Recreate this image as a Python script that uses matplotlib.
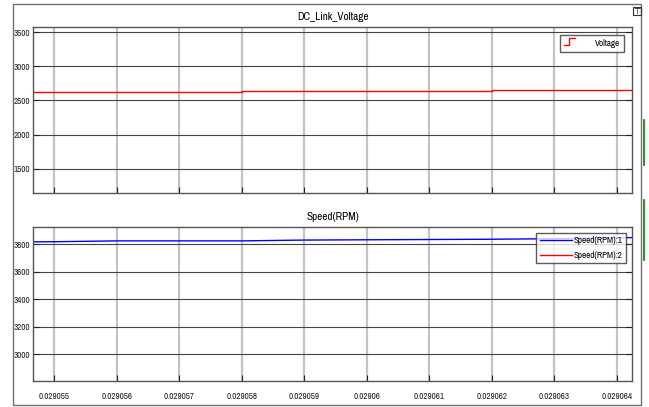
import matplotlib
matplotlib.use('Agg')
from matplotlib import pyplot as plt
from matplotlib.patches import Rectangle
from matplotlib.lines import Line2D
from matplotlib.legend_handler import HandlerBase

# data
t_volt = [0.02905466, 0.029058, 0.029058, 0.029062, 0.029062, 0.02906424]
voltage = [2630, 2630, 2645, 2645, 2652, 2652]

t_speed = [0.02905466, 0.029055, 0.029056, 0.029058, 0.029059, 0.029061, 0.029062, 0.029063, 0.02906424]
speed1 = [3817, 3818, 3824, 3824, 3830, 3834, 3836, 3840, 3848]
speed2 = [4000, 4000, 4000, 4000, 4000, 4000, 4000, 4000, 4000]

xticks = [0.029055, 0.029056, 0.029057, 0.029058, 0.029059, 0.02906,
          0.029061, 0.029062, 0.029063, 0.029064]
xlabels = ['0.029055', '0.029056', '0.029057', '0.029058', '0.029059', '0.02906',
           '0.029061', '0.029062', '0.029063', '0.029064']
volt_ticks = [1500, 2000, 2500, 3000, 3500]
speed_ticks = [3000, 3200, 3400, 3600, 3800]

plt.rcParams['font.family'] = ['Archivo Narrow', 'Liberation Sans', 'DejaVu Sans']


class StepHandler(HandlerBase):
    # little step symbol like the scope legend
    def create_artists(self, legend, orig, xd, yd, w, h, fontsize, trans):
        xs = [xd, xd + w * 0.45, xd + w * 0.45, xd + w]
        ys = [yd + h * 0.05, yd + h * 0.05, yd + h * 0.95, yd + h * 0.95]
        ln = Line2D(xs, ys, color=orig.get_color(), linewidth=1.0, transform=trans)
        return [ln]


W, H = 649, 407
fig = plt.figure(figsize=(W / 100, H / 100), dpi=100)

def box(l, t, r, b):
    return [l / W, 1 - b / H, (r - l) / W, (b - t) / H]

# outer frame
fig.patches.append(Rectangle((13 / W, 1 - 405 / H), 628 / W, 401 / H, transform=fig.transFigure,
                             fill=False, edgecolor='#707070', linewidth=1.0))
# little green bits on the right edge
fig.add_artist(Line2D([644 / W, 644 / W], [1 - 120 / H, 1 - 165 / H], color='green', lw=1.2))
fig.add_artist(Line2D([644 / W, 644 / W], [1 - 200 / H, 1 - 260 / H], color='green', lw=1.2))
fig.patches.append(Rectangle((633 / W, 1 - 15 / H), 8 / W, 8 / H, transform=fig.transFigure,
                             fill=False, edgecolor='#333333', linewidth=0.8))
fig.text(637 / W, 1 - 11 / H, '\u22a4', fontsize=6, ha='center', va='center', family='DejaVu Sans')

ax1 = fig.add_axes(box(33, 27, 632, 193))
ax2 = fig.add_axes(box(33, 227, 632, 381))

def style(ax):
    ax.set_xlim(0.02905466, 0.02906424)
    ax.set_xticks(xticks)
    for sp in ax.spines.values():
        sp.set_color('#555555')
        sp.set_linewidth(1.0)
    ax.xaxis.grid(True, color='#c4c4c4', linewidth=1.6)
    ax.yaxis.grid(True, color='#444444', linewidth=0.8)
    ax.set_axisbelow(True)
    ax.tick_params(direction='in', length=4, width=0.8, colors='#222222',
                   labelsize=6.5, right=True, top=False, pad=2)
    ax.tick_params(axis='y', pad=2)

style(ax1)
ax1.plot(t_volt, voltage, color='red', linewidth=1.0, label='Voltage')
ax1.set_ylim(1147, 3574)
ax1.set_yticks(volt_ticks)
ax1.set_xticklabels([])
ax1.set_title('DC_Link_Voltage', fontsize=8, pad=5)
ax1.legend(loc='upper right', fontsize=6.5, frameon=True, fancybox=False, edgecolor='#333333',
           handlelength=1.2, handleheight=0.9, borderaxespad=0.9, handletextpad=2.2,
           borderpad=0.45, handler_map={Line2D: StepHandler()})

style(ax2)
ax2.plot(t_speed, speed1, color='blue', linewidth=1.0, label='Speed(RPM):1')
ax2.plot(t_speed, speed2, color='red', linewidth=1.0, label='Speed(RPM):2')
ax2.set_ylim(2805, 3925)
ax2.set_yticks(speed_ticks)
ax2.set_xticklabels(xlabels)
ax2.tick_params(axis='x', pad=8)
ax2.set_title('Speed(RPM)', fontsize=8, pad=5)
ax2.legend(loc='upper right', fontsize=6.5, frameon=True, fancybox=False, edgecolor='#333333',
           handlelength=3.6, borderaxespad=0.3, handletextpad=0.2, labelspacing=0.6,
           borderpad=0.4, bbox_to_anchor=(0.995, 0.98))

fig.savefig('out.png', dpi=100)
